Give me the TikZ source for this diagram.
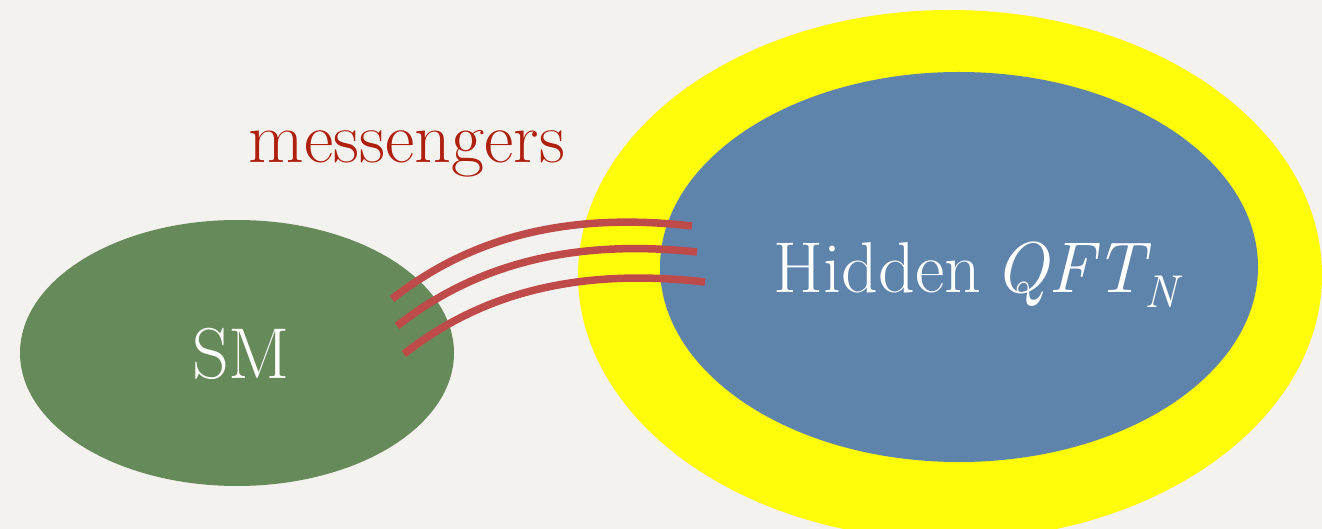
\documentclass[tikz,border=0pt]{standalone}
\usepackage{fontspec}
\usetikzlibrary{shapes.geometric}
\definecolor{bgc}{HTML}{F4F2EE}
\definecolor{smgreen}{HTML}{678A5B}
\definecolor{hidblue}{HTML}{5F84AB}
\definecolor{halo}{HTML}{FFFC0A}
\definecolor{msgred}{HTML}{BE4A4A}
\definecolor{lblred}{HTML}{AE1F0E}
\tikzset{
  blob/.style={ellipse, inner sep=0pt, draw=none},
  bigtext/.style={font=\fontsize{72}{80}\selectfont, inner sep=0pt, anchor=base},
  messenger/.style={draw=msgred, line width=7.5pt},
}
\begin{document}
\begin{tikzpicture}[x=1pt,y=-1pt]
\useasboundingbox (0,0) rectangle (1322,529);
\fill[bgc] (0,0) rectangle (1322,529);
\clip (0,0) rectangle (1322,529);
% ellipses
\node[blob, fill=halo, minimum width=744pt, minimum height=530pt] (halo) at (950,275) {};
\node[blob, fill=hidblue, minimum width=598pt, minimum height=390pt] (hidden) at (959,267) {};
\node[blob, fill=smgreen, minimum width=434pt, minimum height=266pt] (sm) at (237,353) {};
% labels
\node[bigtext, text=white] (smlabel) at (241,378) {SM};
\node[bigtext, text=white] (hidlabel) at (976,292) {Hidden\hspace{0.18em}{\itshape QFT}\raisebox{-0.22em}{\fontsize{46}{50}\selectfont\itshape N}};
\node[bigtext, text=lblred] (msglabel) at (407,163) {messengers};
% messenger endpoints
\coordinate (s1) at (392,299); \coordinate (e1) at (692,226);
\coordinate (s2) at (397,326); \coordinate (e2) at (697,252);
\coordinate (s3) at (404,354); \coordinate (e3) at (705,282);
\draw[messenger] (s1) .. controls (472,236) and (570,212) .. (e1);
\draw[messenger] (s2) .. controls (477,263) and (575,239) .. (e2);
\draw[messenger] (s3) .. controls (484,291) and (582,268) .. (e3);
\end{tikzpicture}
\end{document}
